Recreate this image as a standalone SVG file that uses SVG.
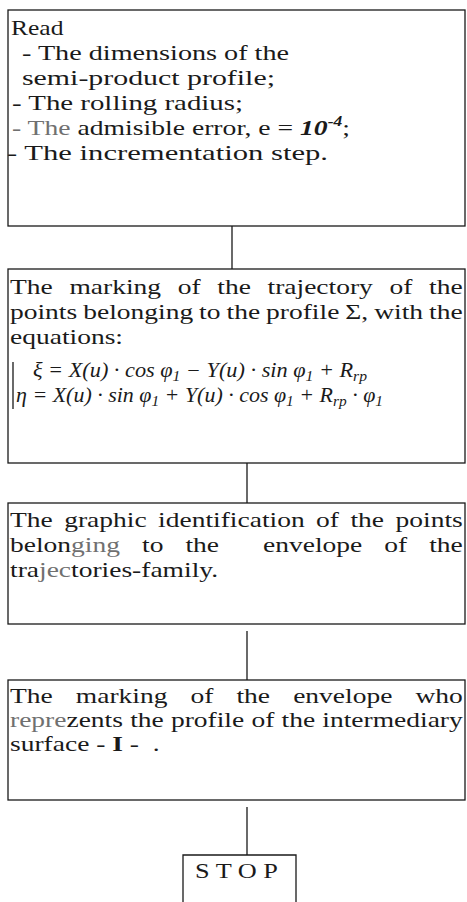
<svg xmlns="http://www.w3.org/2000/svg" width="467" height="902" viewBox="0 0 467 902">
<style>
.box{fill:#fff;stroke:#1a1a1a;stroke-width:1.3}
.link{fill:none;stroke:#1a1a1a;stroke-width:1.3}
.t{font-family:"Liberation Serif","Times New Roman",serif;font-size:22px;fill:#1a1a1a}
.eq{font-family:"Liberation Serif","Times New Roman",serif;font-style:italic;font-size:20px;fill:#1a1a1a}
.sub{font-size:14px}
.g{fill:#707070}
.bi{font-weight:bold;font-style:italic}
.b{font-weight:bold}
</style>
<rect width="467" height="902" fill="#fff"/>
<g id="connectors">
<line class="link" x1="232" y1="224" x2="232" y2="269"/>
<line class="link" x1="247" y1="455" x2="247" y2="503"/>
<line class="link" x1="247" y1="631" x2="247" y2="680"/>
<line class="link" x1="247" y1="807" x2="247" y2="855"/>
</g>
<g id="read">
<rect class="box" x="8" y="10" width="457" height="216"/>
<text class="t" transform="scale(1.25 1)" x="8.8" y="35" textLength="42" lengthAdjust="spacingAndGlyphs">Read</text>
<text class="t" transform="scale(1.25 1)" x="17.6" y="60" textLength="213.6" lengthAdjust="spacingAndGlyphs">- The dimensions of the</text>
<text class="t" transform="scale(1.25 1)" x="17.6" y="85" textLength="202.4" lengthAdjust="spacingAndGlyphs">semi-product profile;</text>
<text class="t" transform="scale(1.25 1)" x="9.6" y="110" textLength="184.8" lengthAdjust="spacingAndGlyphs">- The rolling radius;</text>
<text class="t" transform="scale(1.25 1)" x="9.6" y="135" textLength="270.4" lengthAdjust="spacingAndGlyphs"><tspan class="g">- The</tspan> admisible error, e = <tspan class="bi">10</tspan><tspan class="bi" font-size="14" dy="-9">-4</tspan><tspan dy="9">;</tspan></text>
<text class="t" transform="scale(1.25 1)" x="5.6" y="160" textLength="256.8" lengthAdjust="spacingAndGlyphs">- The incrementation step.</text>
</g>
<g id="trajectory">
<rect class="box" x="8" y="269" width="457" height="194"/>
<text class="t" transform="scale(1.25 1)" x="8" y="294" word-spacing="7.85">The marking of the trajectory of the</text>
<text class="t" transform="scale(1.25 1)" x="8" y="319" word-spacing="-0.7">points belonging to the profile Σ, with the</text>
<text class="t" transform="scale(1.25 1)" x="8" y="344">equations:</text>
<line class="link" x1="13" y1="362" x2="13" y2="409"/>
<text class="eq" x="33" y="377" textLength="334" lengthAdjust="spacingAndGlyphs">ξ = X(u) · cos φ<tspan class="sub" dy="4">1</tspan><tspan dy="-4"> − Y(u) · sin φ</tspan><tspan class="sub" dy="4">1</tspan><tspan dy="-4"> + R</tspan><tspan class="sub" dy="4">rp</tspan></text>
<text class="eq" x="16" y="402" textLength="367" lengthAdjust="spacingAndGlyphs">η = X(u) · sin φ<tspan class="sub" dy="4">1</tspan><tspan dy="-4"> + Y(u) · cos φ</tspan><tspan class="sub" dy="4">1</tspan><tspan dy="-4"> + R</tspan><tspan class="sub" dy="4">rp</tspan><tspan dy="-4"> · φ</tspan><tspan class="sub" dy="4">1</tspan></text>
</g>
<g id="identification">
<rect class="box" x="8" y="503" width="457" height="121"/>
<text class="t" transform="scale(1.25 1)" x="8" y="527" word-spacing="3.68">The graphic identification of the points</text>
<text class="t" transform="scale(1.25 1)" x="8" y="552" word-spacing="12.13" xml:space="preserve">belon<tspan class="g">ging</tspan> to the  envelope of the</text>
<text class="t" transform="scale(1.25 1)" x="8" y="577">tra<tspan class="g">jec</tspan>tories-family.</text>
</g>
<g id="envelope">
<rect class="box" x="8" y="680" width="457" height="120"/>
<text class="t" transform="scale(1.25 1)" x="8" y="703" word-spacing="12.97">The marking of the envelope who</text>
<text class="t" transform="scale(1.25 1)" x="8" y="727" word-spacing="0.27"><tspan class="g">repre</tspan>zents the profile of the intermediary</text>
<text class="t" transform="scale(1.25 1)" x="8" y="751" xml:space="preserve">surface - <tspan class="b">I</tspan> -  .</text>
</g>
<g id="stop">
<path class="box" d="M183,905 V855 H296 V905"/>
<text class="t" x="195" y="878" textLength="83" lengthAdjust="spacingAndGlyphs">S T O P</text>
</g>
</svg>
